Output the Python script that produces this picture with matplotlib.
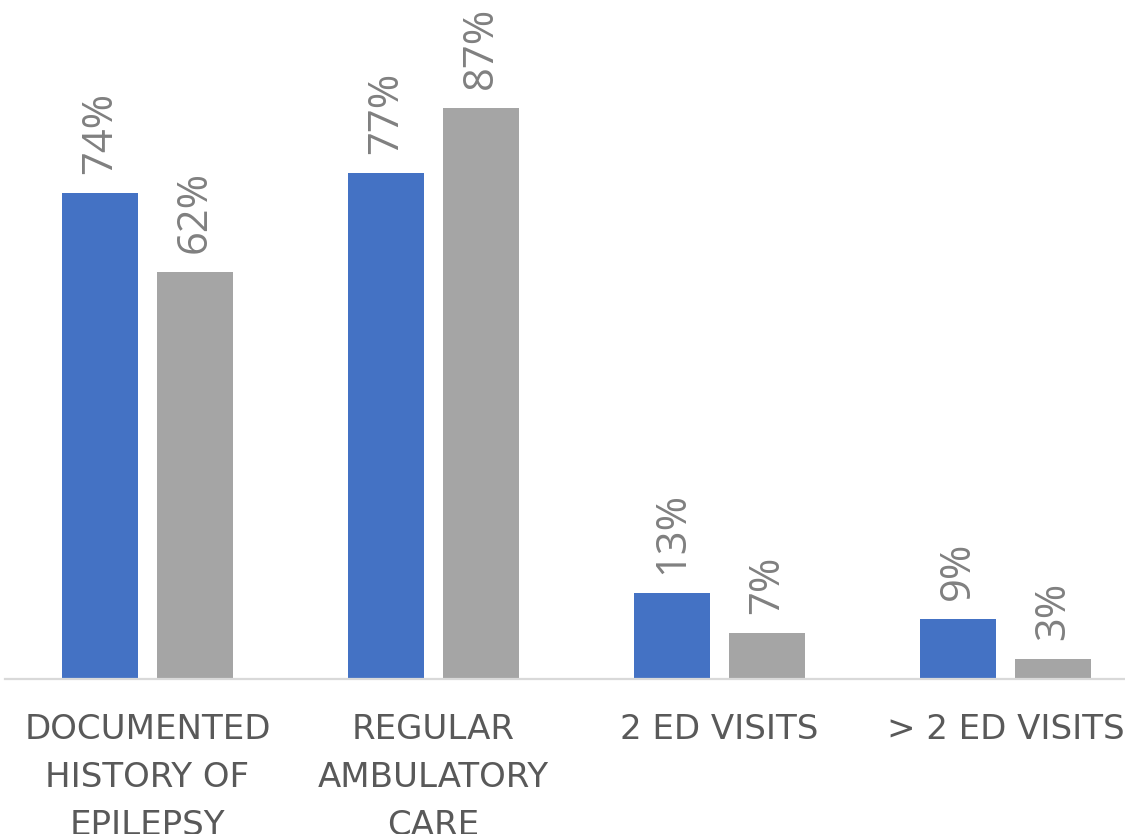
import matplotlib
matplotlib.use("Agg")
import matplotlib.pyplot as plt
import numpy as np

categories = ["DOCUMENTED\nHISTORY OF\nEPILEPSY", "REGULAR\nAMBULATORY\nCARE",
              "2 ED VISITS", "> 2 ED VISITS"]
series_a = [74, 77, 13, 9]
series_b = [62, 87, 7, 3]

BLUE = "#4472C4"
GREY = "#A5A5A5"
LABEL_GREY = "#808080"
TICK_GREY = "#595959"

W, H = 1125, 834
fig = plt.figure(figsize=(W / 100, H / 100), dpi=100)

cat_px = 286.0
left_px = 4.5
base_px = 678.5
ax = fig.add_axes([left_px / W, 1 - base_px / H, (W - left_px) / W, base_px / H])

x = np.arange(len(categories))
bw = 76 / cat_px
off = 47.5 / cat_px

bars_a = ax.bar(x - off, series_a, width=bw, color=BLUE, zorder=2)
bars_b = ax.bar(x + off, series_b, width=bw, color=GREY, zorder=2)

ax.set_xlim(-0.5, -0.5 + (W - left_px) / cat_px)
ax.set_ylim(0, base_px / 6.56)

for bars, vals in ((bars_a, series_a), (bars_b, series_b)):
    for b, v in zip(bars, vals):
        ax.annotate(f"{v}%", (b.get_x() + b.get_width() / 2, v),
                    xytext=(0, 19), textcoords="offset pixels",
                    rotation=90, ha="center", va="bottom",
                    fontsize=30, color=LABEL_GREY, family="Open Sans")

for s in ("top", "right", "left"):
    ax.spines[s].set_visible(False)
ax.spines["bottom"].set_color("#D9D9D9")
ax.spines["bottom"].set_linewidth(1.6)
ax.spines["bottom"].set_zorder(3)

ax.set_yticks([])
ax.set_xticks(x)
ax.set_xticklabels(categories, fontsize=24.5, color=TICK_GREY,
                   family="DejaVu Sans", linespacing=1.57)
ax.tick_params(axis="x", length=0, pad=25)

fig.savefig("out.png", dpi=100)
